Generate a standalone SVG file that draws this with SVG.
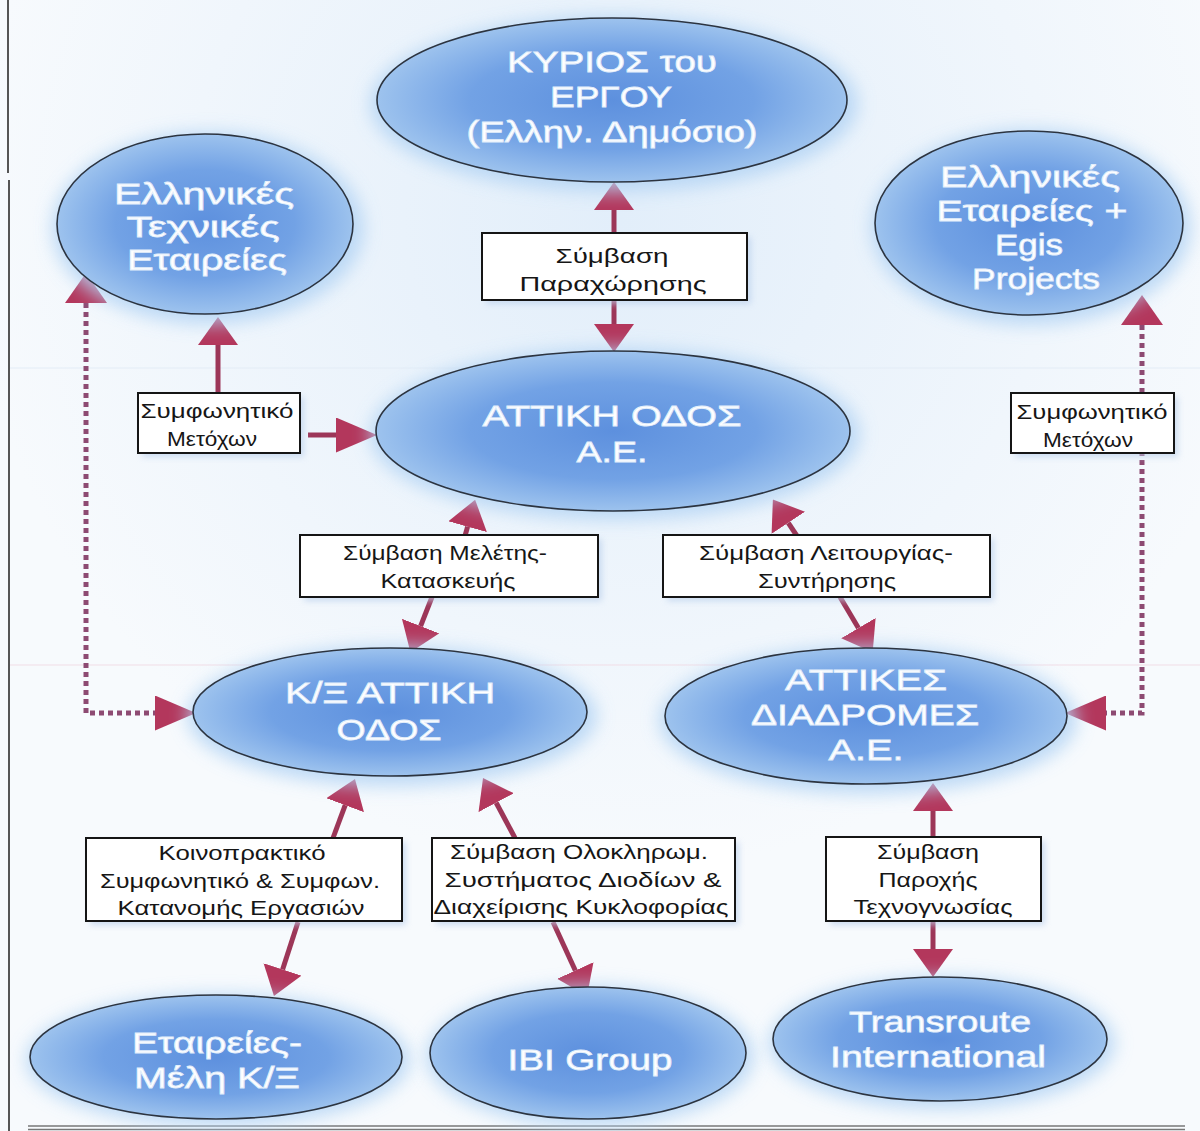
<svg xmlns="http://www.w3.org/2000/svg" width="1200" height="1131" viewBox="0 0 1200 1131">
<style>
.halo{fill:#b3d4f4;filter:url(#blur);opacity:.85}
.el{fill:url(#blob);stroke:#2c3440;stroke-width:1.6}
.t{font-family:"Liberation Sans",Arial,sans-serif;font-size:30px;fill:#ffffff;stroke:#e2eefb;stroke-width:.8;text-anchor:middle}
.box{fill:#ffffff;stroke:#151515;stroke-width:2}
.shadow{fill:#bcd0ec;filter:url(#blur2);opacity:.7}
.l{font-family:"Liberation Sans",Arial,sans-serif;font-size:21px;fill:#161616;text-anchor:middle}
.ln{fill:none;stroke:#9c3658;stroke-width:5}
.dot{fill:none;stroke:#8d4a72;stroke-width:5;stroke-dasharray:5 4}
.hd{fill:#b3375c}
</style>
<defs>
<radialGradient id="blob" cx="50%" cy="50%" r="55%">
<stop offset="0%" stop-color="#5d90de"/>
<stop offset="55%" stop-color="#72a2e5"/>
<stop offset="100%" stop-color="#a8cbf0"/>
</radialGradient>
<radialGradient id="wash" gradientUnits="userSpaceOnUse" cx="620" cy="220" r="650">
<stop offset="0%" stop-color="#e2eefa"/>
<stop offset="100%" stop-color="#f7fafd"/>
</radialGradient>
<filter id="blur" x="-20%" y="-30%" width="140%" height="160%"><feGaussianBlur stdDeviation="9"/></filter>
<filter id="blur2" x="-10%" y="-30%" width="120%" height="160%"><feGaussianBlur stdDeviation="3"/></filter>
<marker id="hv" markerUnits="userSpaceOnUse" viewBox="0 0 28 40" markerWidth="28" markerHeight="40" refX="0" refY="20" orient="auto"><path class="hd" d="M0,0 L28,20 L0,40 z"/></marker>
<marker id="hvs" markerUnits="userSpaceOnUse" viewBox="0 0 30 42" markerWidth="30" markerHeight="42" refX="0" refY="21" orient="auto-start-reverse"><path class="hd" d="M0,0 L30,21 L0,42 z"/></marker>
<marker id="hh" markerUnits="userSpaceOnUse" viewBox="0 0 41 35" markerWidth="41" markerHeight="35" refX="0" refY="17.5" orient="auto"><path class="hd" d="M0,0 L41,17.5 L0,35 z"/></marker>
</defs>

<rect x="0" y="0" width="1200" height="1131" fill="url(#wash)"/>
<line x1="10" y1="368" x2="1200" y2="368" stroke="#e3ecf6" stroke-width="1"/>
<line x1="10" y1="665" x2="1200" y2="665" stroke="#f1dde6" stroke-width="1"/>
<line x1="8" y1="0" x2="8" y2="173" stroke="#555" stroke-width="2"/>
<line x1="9" y1="180" x2="9" y2="1131" stroke="#555" stroke-width="2"/>
<line x1="28" y1="1126" x2="1185" y2="1126" stroke="#777" stroke-width="1.5"/>
<line x1="28" y1="1129.5" x2="1185" y2="1129.5" stroke="#777" stroke-width="1.5"/>

<g id="connectors">
<path class="ln" d="M614,233 V210" marker-end="url(#hv)"/>
<path class="ln" d="M614,300 V324" marker-end="url(#hv)"/>
<path class="ln" d="M218,393 V345" marker-end="url(#hv)"/>
<path class="ln" d="M308,435 H336" marker-end="url(#hh)"/>
<path class="dot" d="M86,303 V713 H155" marker-start="url(#hvs)" marker-end="url(#hh)"/>
<path class="dot" d="M1142,325 V713 H1106" marker-start="url(#hvs)" marker-end="url(#hh)"/>
<path class="ln" d="M465,536 L467.6,526.7" marker-end="url(#hv)"/>
<path class="ln" d="M797,536 L788.3,522.8" marker-end="url(#hv)"/>
<path class="ln" d="M432,597 L420.6,626.1" marker-end="url(#hv)"/>
<path class="ln" d="M840,597 L858.4,628.1" marker-end="url(#hv)"/>
<path class="ln" d="M333,838 L345.2,805.2" marker-end="url(#hv)"/>
<path class="ln" d="M515,838 L496.2,802.7" marker-end="url(#hv)"/>
<path class="ln" d="M933,837 V811" marker-end="url(#hv)"/>
<path class="ln" d="M933,921 V949" marker-end="url(#hv)"/>
<path class="ln" d="M298,922 L282.6,969.4" marker-end="url(#hv)"/>
<path class="ln" d="M553,922 L575.3,970.5" marker-end="url(#hv)"/>
</g>

<g id="kyrios">
<ellipse class="halo" cx="614" cy="104" rx="244" ry="88"/>
<ellipse class="el" cx="612" cy="100" rx="235" ry="82"/>
<text class="t" x="612" y="72" textLength="210" lengthAdjust="spacingAndGlyphs">ΚΥΡΙΟΣ του</text>
<text class="t" x="611" y="107" textLength="122" lengthAdjust="spacingAndGlyphs">ΕΡΓΟΥ</text>
<text class="t" x="612" y="142" textLength="291" lengthAdjust="spacingAndGlyphs">(Ελλην. Δημόσιο)</text>
</g>

<g id="ellinikes-texnikes">
<ellipse class="halo" cx="208" cy="228" rx="156" ry="96"/>
<ellipse class="el" cx="205" cy="224" rx="148" ry="90"/>
<text class="t" x="204" y="204" textLength="180" lengthAdjust="spacingAndGlyphs">Ελληνικές</text>
<text class="t" x="203" y="237" textLength="153" lengthAdjust="spacingAndGlyphs">Τεχνικές</text>
<text class="t" x="207" y="270" textLength="160" lengthAdjust="spacingAndGlyphs">Εταιρείες</text>
</g>

<g id="ellinikes-egis">
<ellipse class="halo" cx="1031" cy="227" rx="160" ry="98"/>
<ellipse class="el" cx="1029" cy="223" rx="154" ry="92"/>
<text class="t" x="1030" y="187" textLength="180" lengthAdjust="spacingAndGlyphs">Ελληνικές</text>
<text class="t" x="1032" y="221" textLength="191" lengthAdjust="spacingAndGlyphs">Εταιρείες +</text>
<text class="t" x="1029" y="255" textLength="68" lengthAdjust="spacingAndGlyphs">Egis</text>
<text class="t" x="1036" y="289" textLength="128" lengthAdjust="spacingAndGlyphs">Projects</text>
</g>

<g id="attiki-odos">
<ellipse class="halo" cx="615" cy="434" rx="245" ry="86"/>
<ellipse class="el" cx="613" cy="431" rx="237" ry="80"/>
<text class="t" x="612" y="426" textLength="259" lengthAdjust="spacingAndGlyphs">ΑΤΤΙΚΗ ΟΔΟΣ</text>
<text class="t" x="612" y="462" textLength="71" lengthAdjust="spacingAndGlyphs">Α.Ε.</text>
</g>

<g id="ke-attiki-odos">
<ellipse class="halo" cx="392" cy="716" rx="205" ry="70"/>
<ellipse class="el" cx="390" cy="712" rx="197" ry="64"/>
<text class="t" x="390" y="703" textLength="210" lengthAdjust="spacingAndGlyphs">Κ/Ξ ΑΤΤΙΚΗ</text>
<text class="t" x="389" y="740" textLength="105" lengthAdjust="spacingAndGlyphs">ΟΔΟΣ</text>
</g>

<g id="attikes-diadromes">
<ellipse class="halo" cx="868" cy="720" rx="209" ry="74"/>
<ellipse class="el" cx="866" cy="716" rx="201" ry="68"/>
<text class="t" x="866" y="690" textLength="162" lengthAdjust="spacingAndGlyphs">ΑΤΤΙΚΕΣ</text>
<text class="t" x="865" y="725" textLength="228" lengthAdjust="spacingAndGlyphs">ΔΙΑΔΡΟΜΕΣ</text>
<text class="t" x="866" y="760" textLength="75" lengthAdjust="spacingAndGlyphs">Α.Ε.</text>
</g>

<g id="etaireies-meli">
<ellipse class="halo" cx="218" cy="1060" rx="192" ry="66"/>
<ellipse class="el" cx="216" cy="1057" rx="186" ry="62"/>
<text class="t" x="217" y="1053" textLength="170" lengthAdjust="spacingAndGlyphs">Εταιρείες-</text>
<text class="t" x="217" y="1088" textLength="166" lengthAdjust="spacingAndGlyphs">Μέλη Κ/Ξ</text>
</g>

<g id="ibi-group">
<ellipse class="halo" cx="590" cy="1056" rx="164" ry="70"/>
<ellipse class="el" cx="588" cy="1053" rx="158" ry="66"/>
<text class="t" x="590" y="1070" textLength="165" lengthAdjust="spacingAndGlyphs">IBI Group</text>
</g>

<g id="transroute">
<ellipse class="halo" cx="942" cy="1043" rx="173" ry="66"/>
<ellipse class="el" cx="940" cy="1039" rx="167" ry="62"/>
<text class="t" x="940" y="1032" textLength="182" lengthAdjust="spacingAndGlyphs">Transroute</text>
<text class="t" x="938" y="1067" textLength="216" lengthAdjust="spacingAndGlyphs">International</text>
</g>

<g id="label-parachorisis">
<rect class="shadow" x="486" y="237" width="265" height="67"/>
<rect class="box" x="482" y="233" width="265" height="67"/>
<text class="l" x="612" y="263" textLength="113" lengthAdjust="spacingAndGlyphs">Σύμβαση</text>
<text class="l" x="613" y="291" textLength="187" lengthAdjust="spacingAndGlyphs">Παραχώρησης</text>
</g>

<g id="label-metochon-left">
<rect class="shadow" x="142" y="397" width="162" height="60"/>
<rect class="box" x="138" y="393" width="162" height="60"/>
<text class="l" x="217" y="418" textLength="153" lengthAdjust="spacingAndGlyphs">Συμφωνητικό</text>
<text class="l" x="212" y="446" textLength="90" lengthAdjust="spacingAndGlyphs">Μετόχων</text>
</g>

<g id="label-metochon-right">
<rect class="shadow" x="1015" y="397" width="163" height="60"/>
<rect class="box" x="1011" y="393" width="163" height="60"/>
<text class="l" x="1092" y="419" textLength="151" lengthAdjust="spacingAndGlyphs">Συμφωνητικό</text>
<text class="l" x="1088" y="447" textLength="90" lengthAdjust="spacingAndGlyphs">Μετόχων</text>
</g>

<g id="label-meletis">
<rect class="shadow" x="304" y="539" width="298" height="62"/>
<rect class="box" x="300" y="535" width="298" height="62"/>
<text class="l" x="445" y="560" textLength="204" lengthAdjust="spacingAndGlyphs">Σύμβαση Μελέτης-</text>
<text class="l" x="448" y="588" textLength="135" lengthAdjust="spacingAndGlyphs">Κατασκευής</text>
</g>

<g id="label-leitourgias">
<rect class="shadow" x="667" y="539" width="327" height="62"/>
<rect class="box" x="663" y="535" width="327" height="62"/>
<text class="l" x="826" y="560" textLength="254" lengthAdjust="spacingAndGlyphs">Σύμβαση Λειτουργίας-</text>
<text class="l" x="827" y="588" textLength="138" lengthAdjust="spacingAndGlyphs">Συντήρησης</text>
</g>

<g id="label-koinopraktiko">
<rect class="shadow" x="90" y="842" width="316" height="83"/>
<rect class="box" x="86" y="838" width="316" height="83"/>
<text class="l" x="242" y="860" textLength="167" lengthAdjust="spacingAndGlyphs">Κοινοπρακτικό</text>
<text class="l" x="240" y="888" textLength="280" lengthAdjust="spacingAndGlyphs">Συμφωνητικό &amp; Συμφων.</text>
<text class="l" x="241" y="915" textLength="247" lengthAdjust="spacingAndGlyphs">Κατανομής Εργασιών</text>
</g>

<g id="label-oloklirom">
<rect class="shadow" x="436" y="842" width="303" height="83"/>
<rect class="box" x="432" y="838" width="303" height="83"/>
<text class="l" x="579" y="859" textLength="258" lengthAdjust="spacingAndGlyphs">Σύμβαση Ολοκληρωμ.</text>
<text class="l" x="583" y="887" textLength="277" lengthAdjust="spacingAndGlyphs">Συστήματος Διοδίων &amp;</text>
<text class="l" x="581" y="914" textLength="295" lengthAdjust="spacingAndGlyphs">Διαχείρισης Κυκλοφορίας</text>
</g>

<g id="label-parochis">
<rect class="shadow" x="830" y="841" width="215" height="84"/>
<rect class="box" x="826" y="837" width="215" height="84"/>
<text class="l" x="928" y="859" textLength="102" lengthAdjust="spacingAndGlyphs">Σύμβαση</text>
<text class="l" x="928" y="887" textLength="99" lengthAdjust="spacingAndGlyphs">Παροχής</text>
<text class="l" x="933" y="914" textLength="159" lengthAdjust="spacingAndGlyphs">Τεχνογνωσίας</text>
</g>
</svg>
